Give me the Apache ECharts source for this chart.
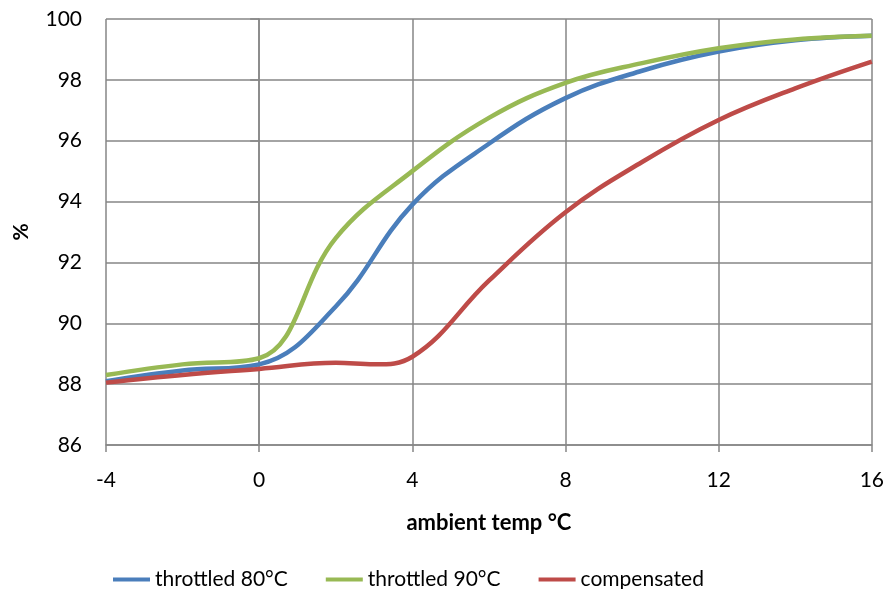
<!DOCTYPE html>
<html>
<head>
<meta charset="utf-8">
<script src="https://cdn.jsdelivr.net/npm/echarts@6/dist/echarts.min.js"></script>
<style>
  html, body { margin: 0; padding: 0; background: #fff; }
  #chart { width: 887px; height: 589px; }
</style>
</head>
<body>
<div id="chart"></div>
<script>
// ambient temp (°C)
var temps = [-4, -2, 0, 2, 4, 6, 8, 10, 12, 14, 16];
var throttled80 = [88.1, 88.45, 88.65, 90.55, 93.9, 95.9, 97.4, 98.3, 98.93, 99.3, 99.45];
var throttled90 = [88.3, 88.65, 88.85, 92.8, 95.0, 96.75, 97.9, 98.55, 99.04, 99.33, 99.45];
// compensated has an extra point at 3 for the flat spot
var tempsComp = [-4, -2, 0, 2, 3, 4, 6, 8, 10, 12, 14, 16];
var compensated = [88.05, 88.3, 88.5, 88.7, 88.65, 88.9, 91.4, 93.65, 95.3, 96.68, 97.72, 98.6];

function pairs(xs, ys) {
  return xs.map(function (x, i) { return [x, ys[i]]; });
}

var chart = echarts.init(document.getElementById('chart'));
var font = 'Lato, "Open Sans", sans-serif';

var option = {
  backgroundColor: '#fff',
  animation: false,
  grid: { left: 106, right: 15, top: 19, bottom: 144 },
  legend: {
    top: 564,
    left: 108,
    itemWidth: 37,
    itemHeight: 4,
    itemGap: 38,
    icon: 'rect',
    textStyle: { fontFamily: font, fontSize: 21, color: '#000' },
    data: ['throttled 80°C', 'throttled 90°C', 'compensated']
  },
  xAxis: {
    type: 'value',
    min: -4,
    max: 16,
    interval: 4,
    name: 'ambient temp °C',
    nameLocation: 'middle',
    nameGap: 67,
    nameTextStyle: { fontFamily: font, fontSize: 22, fontWeight: 'bold', color: '#000' },
    axisLine: { lineStyle: { color: '#868686', width: 1.5 } },
    axisTick: { show: true, length: 7, lineStyle: { color: '#868686', width: 1.5 } },
    axisLabel: { fontFamily: font, fontSize: 21, color: '#000', margin: 25 },
    splitLine: { lineStyle: { color: '#868686', width: 1.5 } }
  },
  yAxis: {
    type: 'value',
    min: 86,
    max: 100,
    interval: 2,
    name: '%',
    nameLocation: 'middle',
    nameGap: 74,
    nameRotate: 90,
    nameTextStyle: { fontFamily: font, fontSize: 21, fontWeight: 'bold', color: '#000' },
    axisLine: { show: true, lineStyle: { color: '#868686', width: 1.5 } },
    axisTick: { show: true, length: 9, lineStyle: { color: '#868686', width: 1.5 } },
    axisLabel: { fontFamily: font, fontSize: 21, color: '#000', margin: 24 },
    splitLine: { lineStyle: { color: '#868686', width: 1.5 } }
  },
  series: [
    {
      name: 'throttled 80°C',
      type: 'line',
      smooth: 0.4,
      showSymbol: false,
      color: '#4a7ebb',
      lineStyle: { width: 4.5 },
      data: pairs(temps, throttled80),
      z: 3
    },
    {
      name: 'throttled 90°C',
      type: 'line',
      smooth: 0.4,
      showSymbol: false,
      color: '#98b954',
      lineStyle: { width: 4.5 },
      data: pairs(temps, throttled90),
      z: 4
    },
    {
      name: 'compensated',
      type: 'line',
      smooth: 0.4,
      showSymbol: false,
      color: '#be4b48',
      lineStyle: { width: 4.5 },
      data: pairs(tempsComp, compensated),
      z: 5
    }
  ]
};
chart.setOption(option);
</script>
</body>
</html>
